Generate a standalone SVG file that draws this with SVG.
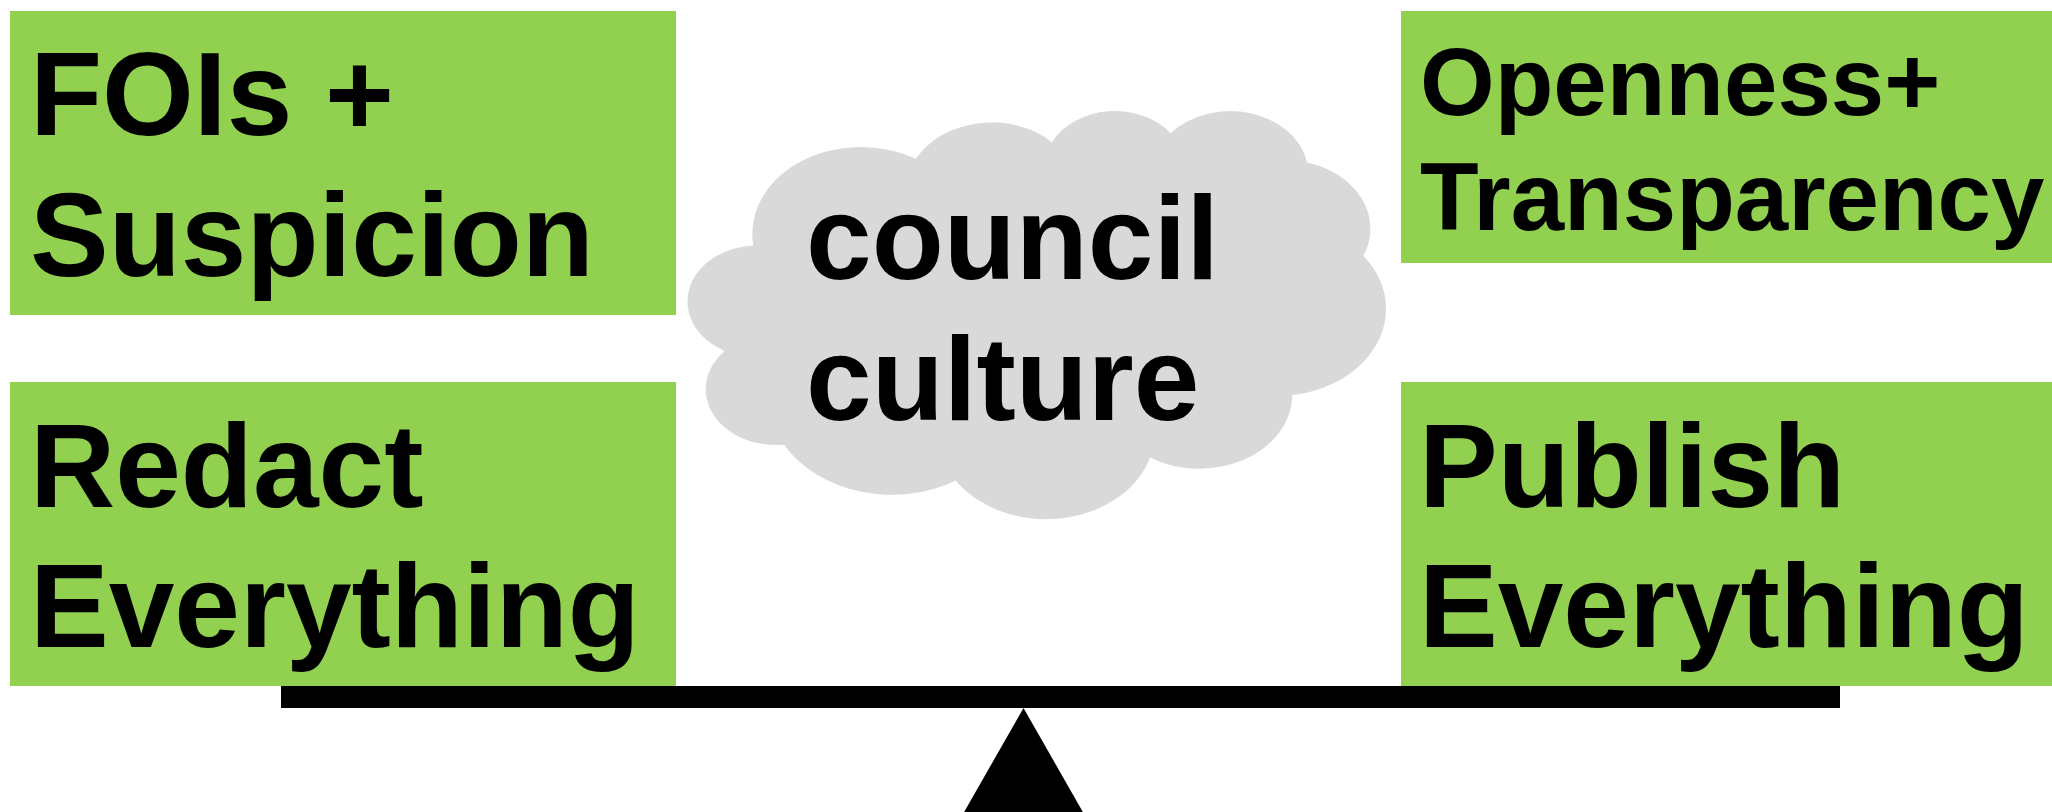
<svg xmlns="http://www.w3.org/2000/svg" width="2052" height="812" viewBox="0 0 2052 812">
  <style>
    .box { fill: #92D050; }
    .lbl { font-family: "Liberation Sans", Arial, sans-serif; font-weight: bold; fill: #000000; }
    .big { font-size: 118px; }
    .mid { font-size: 96px; }
    .cloud { fill: #D9D9D9; }
    .beam { fill: #000000; }
  </style>

  <rect width="2052" height="812" fill="#FFFFFF"/>

  <!-- left pan: closed side -->
  <g id="fois-suspicion">
    <rect class="box" x="10" y="11" width="666" height="304"/>
    <text class="lbl big" x="30" y="135">FOIs +</text>
    <text class="lbl big" x="30" y="276">Suspicion</text>
  </g>

  <g id="redact-everything">
    <rect class="box" x="10" y="382" width="666" height="304"/>
    <text class="lbl big" x="30" y="507">Redact</text>
    <text class="lbl big" x="30" y="647">Everything</text>
  </g>

  <!-- right pan: open side -->
  <g id="openness-transparency">
    <rect class="box" x="1401" y="11" width="651" height="252"/>
    <text class="lbl mid" x="1420" y="115">Openness+</text>
    <text class="lbl mid" x="1420" y="230">Transparency</text>
  </g>

  <g id="publish-everything">
    <rect class="box" x="1401" y="382" width="651" height="304"/>
    <text class="lbl big" x="1419" y="507">Publish</text>
    <text class="lbl big" x="1419" y="647">Everything</text>
  </g>

  <!-- cloud drawn in a 43200 unit frame, then fitted to its box -->
  <g id="council-culture">
    <path class="cloud" transform="translate(690.6,109.7) scale(0.016088,0.0094444)"
          d="M 3900 14370
             A 6753 9190 0 0 1 14005.4 5202.5
             A 5333 7267 0 0 1 22459 3434.9
             A 4365 5945 0 0 1 29836.9 2485
             A 4857 6595 0 0 1 38321.3 5581.6
             A 5333 7273 0 0 1 41821.7 15465.7
             A 6775 9220 0 0 1 37407.2 30208.2
             A 5785 7867 0 0 1 28558.7 36818.4
             A 6752 9215 0 0 1 16482.3 39267.4
             A 7720 10543 0 0 1 5805.4 35471.6
             A 4360 5918 0 0 1 2112 25552.9
             A 4345 5945 0 0 1 3900 14370 Z"/>
    <text class="lbl big" x="806" y="279">council</text>
    <text class="lbl big" x="806" y="420">culture</text>
  </g>

  <!-- balance beam and fulcrum -->
  <g id="scale">
    <rect class="beam" x="281" y="686" width="1559" height="22"/>
    <polygon class="beam" points="1023.5,708 963,814 1084,814"/>
  </g>
</svg>
